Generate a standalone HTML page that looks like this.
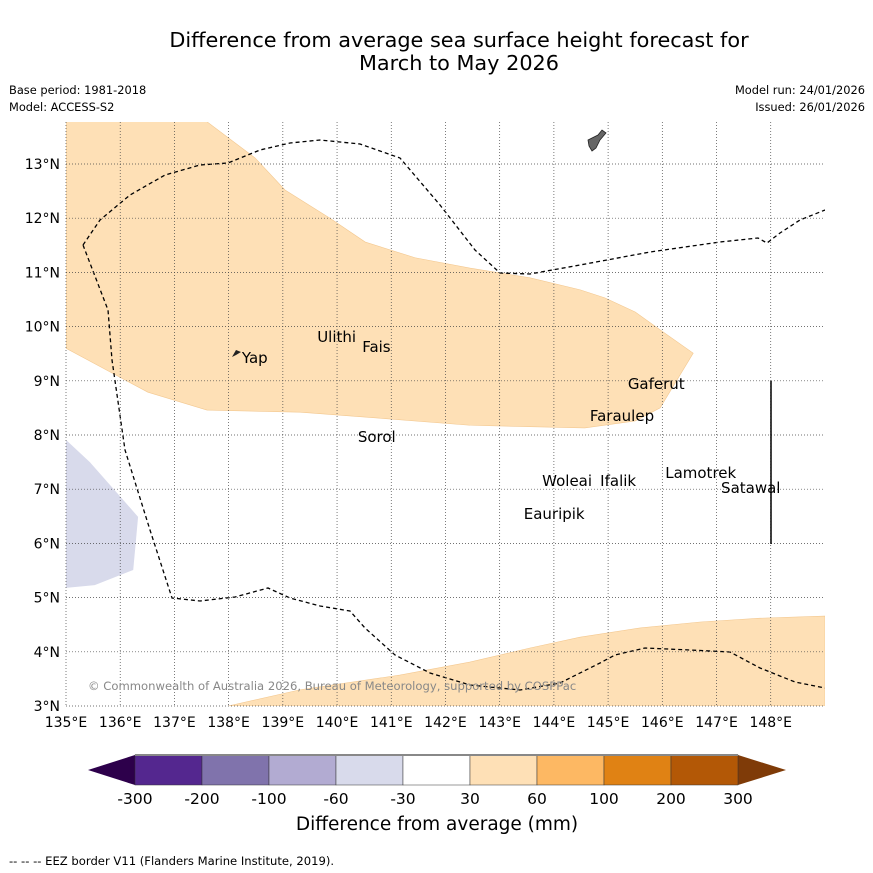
<!DOCTYPE html>
<html><head><meta charset="utf-8"><style>
body{margin:0;background:#fff;width:873px;height:873px;overflow:hidden;font-family:"DejaVu Sans","Liberation Sans",sans-serif}
svg{display:block}
</style></head><body>
<svg id="c" width="873" height="873" xmlns="http://www.w3.org/2000/svg" font-family="DejaVu Sans, Liberation Sans, sans-serif">
<text x="459" y="47" font-size="20.8" text-anchor="middle">Difference from average sea surface height forecast for</text>
<text x="459" y="70" font-size="20.8" text-anchor="middle">March to May 2026</text>
<text x="9" y="94" font-size="11.4">Base period: 1981-2018</text>
<text x="9" y="111" font-size="11.4">Model: ACCESS-S2</text>
<text x="865" y="94" font-size="11.4" text-anchor="end">Model run: 24/01/2026</text>
<text x="865" y="111" font-size="11.4" text-anchor="end">Issued: 26/01/2026</text>
<g id="map"></g>
<g id="cbar"></g>
<text x="437" y="830" font-size="18.5" text-anchor="middle">Difference from average (mm)</text>
<text x="9" y="865" font-size="11.6">-- -- -- EEZ border V11 (Flanders Marine Institute, 2019).</text>
</svg>
<script>
const lonTicks=[135,136,137,138,139,140,141,142,143,144,145,146,147,148];
const latTicks=[3,4,5,6,7,8,9,10,11,12,13];
const posLon=[135,137.6,138.49,139.04,139.87,140.52,141.44,142.45,143.56,144.48,144.94,145.5,145.96,146.57,145.96,145.5,144.57,142.45,140.79,139.32,137.6,136.51,135];
const posLat=[13.78,13.78,13.11,12.52,12.0,11.56,11.27,11.08,10.9,10.68,10.53,10.27,9.94,9.51,8.5,8.26,8.13,8.18,8.31,8.42,8.46,8.79,9.6];
const southLon=[137.99,139.32,141.16,142.45,143.56,144.48,145.59,146.7,147.8,149,149];
const southLat=[3,3.3,3.57,3.81,4.07,4.27,4.44,4.55,4.62,4.66,3];
const negLon=[135,135.44,136.33,136.24,135.53,135];
const negLat=[7.91,7.5,6.49,5.51,5.23,5.18];
const islands=["Yap","Ulithi","Fais","Gaferut","Faraulep","Sorol","Woleai","Ifalik","Lamotrek","Satawal","Eauripik"];
const islLon=[138.17,139.56,140.39,145.29,144.59,140.31,143.71,144.78,145.98,147.01,143.37];
const islLat=[9.33,9.72,9.53,8.85,8.26,7.87,7.06,7.06,7.21,6.93,6.45];
const cbLevels=["-300","-200","-100","-60","-30","30","60","100","200","300"];
const cbColors=["#54278f","#8073ac","#b2abd2","#d8daeb","#ffffff","#fee0b6","#fdb863","#e08214","#b35806"];
const NS="http://www.w3.org/2000/svg";
const X=l=>66+(l-135)*54.21, Y=a=>706-(a-3)*54.2;
function mk(t,a,p){const e=document.createElementNS(NS,t);for(const k in a)e.setAttribute(k,a[k]);(p||map).appendChild(e);return e;}
const map=document.getElementById('map');
const defs=mk('clipPath',{id:'clip'});mk('rect',{x:66,y:122,width:759,height:584},defs);
const g=mk('g',{'clip-path':'url(#clip)'});
function poly(lo,la,fill,name){const p=mk('polygon',{points:lo.map((v,i)=>X(v)+','+Y(la[i])).join(' '),fill:fill,stroke:fill=='#fee0b6'?'#f3c890':'none','stroke-width':0.6},g);

}
poly(posLon,posLat,'#fee0b6','positive-anomaly-north');
poly(southLon,southLat,'#fee0b6','positive-anomaly-south');
poly(negLon,negLat,'#d8daeb','negative-anomaly-west');
lonTicks.forEach(l=>{const ln=mk('line',{x1:X(l),x2:X(l),y1:122,y2:706,stroke:'#444','stroke-width':0.7,'stroke-dasharray':'1,2'});


const t=mk('text',{x:X(l),y:727,'font-size':14,'text-anchor':'middle'});t.textContent=l+'°E';

});
latTicks.forEach(a=>{const ln=mk('line',{x1:66,x2:825,y1:Y(a),y2:Y(a),stroke:'#444','stroke-width':0.7,'stroke-dasharray':'1,2'});


const t=mk('text',{x:60,y:Y(a)+5,'font-size':14,'text-anchor':'end'});t.textContent=a+'°N';

});
const eez=mk('path',{d:'M83,245 L108,310 L112,360 L125,450 L150,530 L172,598 L200,601 L235,597 L268,588 L290,598 L320,606 L350,611 L365,628 L395,655 L430,673 L470,685 L520,690 L560,683 L600,663 L615,655 L645,648 L690,650 L730,652 L760,668 L795,682 L825,688 M83,245 L100,220 L130,195 L165,175 L200,165 L228,163 L260,150 L290,143 L320,140 L360,144 L400,158 L440,205 L475,250 L500,273 L530,274 L580,265 L650,252 L720,242 L758,238 L767,243 L780,233 L800,220 L825,210',fill:'none',stroke:'#000','stroke-width':1.3,'stroke-dasharray':'4,3'},g);


const vl=mk('line',{x1:771,x2:771,y1:381,y2:544,stroke:'#000','stroke-width':1.5});


const guam=mk('path',{d:'M588,140 L598,135 L602,130 L606,133 L600,140 L596,148 L592,151 L589,146 Z',fill:'#666',stroke:'#222','stroke-width':0.8});


const yap=mk('path',{d:'M232,357 L236,350 L241,352 L236,355 Z',fill:'#222'});


islands.forEach((n,i)=>{const t=mk('text',{x:X(islLon[i])+4,y:Y(islLat[i]),'font-size':15});t.textContent=n;

});
const cp=mk('text',{x:88,y:690,'font-size':11.6,fill:'#888'});cp.textContent='© Commonwealth of Australia 2026, Bureau of Meteorology, supported by COSPPac';


const cb=document.getElementById('cbar');
const cx0=135,cw=67,cy=755,ch=30;
const lt=mk('polygon',{points:`88,770 ${cx0},${cy} ${cx0},${cy+ch}`,fill:'#2d004b'},cb);


const rx=cx0+cw*cbColors.length;
const rt=mk('polygon',{points:`786,770 ${rx},${cy} ${rx},${cy+ch}`,fill:'#7f3b08'},cb);


cbColors.forEach((c,i)=>{const r=mk('rect',{x:cx0+i*cw,y:cy,width:cw,height:ch,fill:c,stroke:'#333','stroke-width':0.5},cb);

});
const ol=mk('line',{x1:cx0,x2:rx,y1:cy,y2:cy,stroke:'#888','stroke-width':2},cb);


cbLevels.forEach((s,i)=>{const t=mk('text',{x:cx0+i*cw,y:804,'font-size':15.5,'text-anchor':'middle'},cb);t.textContent=s;

});
</script>
</body></html>
